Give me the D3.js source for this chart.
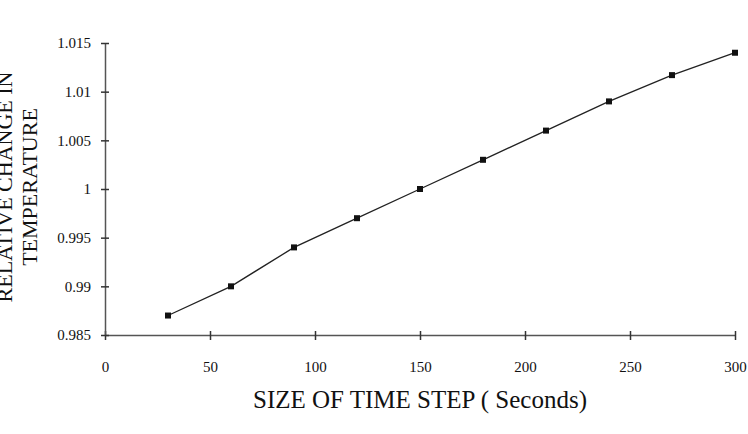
<!DOCTYPE html>
<html>
<head>
<meta charset="utf-8">
<script src="https://cdn.jsdelivr.net/npm/d3@7"></script>
<style>
  body { margin: 0; background: #fff; }
  svg text { font-family: "Liberation Serif", "Times New Roman", serif !important; fill: #111; }
</style>
</head>
<body>
<div class="chart"></div>
<script>
// data
var timeStep = [30, 60, 90, 120, 150, 180, 210, 240, 270, 300];
var relChange = [0.987, 0.990, 0.994, 0.997, 1.000, 1.003, 1.006, 1.009, 1.0117, 1.014];
var xTicks = [0, 50, 100, 150, 200, 250, 300];
var yTicks = [0.985, 0.99, 0.995, 1, 1.005, 1.01, 1.015];

var svgWidth = 748;
var svgHeight = 434;
var margin = { top: 43, right: 13, bottom: 99, left: 105 };
var width = svgWidth - margin.left - margin.right;
var height = svgHeight - margin.top - margin.bottom;

var svg = d3.select(".chart")
  .append("svg")
  .attr("width", svgWidth)
  .attr("height", svgHeight);

var chartGroup = svg.append("g")
  .attr("transform", `translate(${margin.left}, ${margin.top})`);

// scales
var xScale = d3.scaleLinear().domain([0, 300]).range([0, width]);
var yScale = d3.scaleLinear().domain([0.985, 1.015]).range([height, 0]);

// axes
var bottomAxis = d3.axisBottom(xScale).tickValues(xTicks).tickSize(0).tickFormat(d3.format("d"));
var leftAxis = d3.axisLeft(yScale).tickValues(yTicks).tickSize(0).tickFormat(d => String(d));

var xg = chartGroup.append("g")
  .attr("transform", `translate(0, ${height})`)
  .attr("font-family", null)
  .call(bottomAxis);
xg.attr("font-family", "Liberation Serif");
xg.select(".domain").attr("stroke", "#555").attr("stroke-width", 1.5);
xg.selectAll(".tick line").attr("y1", -4).attr("y2", 5).attr("stroke", "#333").attr("stroke-width", 1.5);
xg.selectAll(".tick text")
  .attr("y", 37).attr("dy", 0)
  .attr("font-size", "15px");

var yg = chartGroup.append("g").call(leftAxis);
yg.attr("font-family", "Liberation Serif");
yg.select(".domain").attr("stroke", "#555").attr("stroke-width", 1.5);
yg.selectAll(".tick line").attr("x1", -4).attr("x2", 4).attr("stroke", "#333").attr("stroke-width", 1.5);
yg.selectAll(".tick text")
  .attr("x", -14)
  .attr("font-size", "15px");

// line + markers
var points = timeStep.map((t, i) => ({ x: t, y: relChange[i] }));

var lineGenerator = d3.line()
  .x(d => xScale(d.x))
  .y(d => yScale(d.y));

chartGroup.append("path")
  .attr("fill", "none")
  .attr("stroke", "#222")
  .attr("stroke-width", 1.3)
  .attr("d", lineGenerator(points));

chartGroup.append("g").selectAll("rect")
  .data(points)
  .enter()
  .append("rect")
  .attr("x", d => xScale(d.x) - 3)
  .attr("y", d => yScale(d.y) - 3)
  .attr("width", 6)
  .attr("height", 6)
  .attr("fill", "#111");

// axis titles (first line is clipped at the left edge, as in the original)
svg.append("text")
  .attr("transform", "translate(12, 187) rotate(-90)")
  .attr("text-anchor", "middle")
  .attr("font-size", "22px")
  .text("RELATIVE CHANGE IN");

svg.append("text")
  .attr("transform", "translate(37, 187) rotate(-90)")
  .attr("text-anchor", "middle")
  .attr("font-size", "22px")
  .text("TEMPERATURE");

svg.append("text")
  .attr("x", 420)
  .attr("y", 408)
  .attr("text-anchor", "middle")
  .attr("font-size", "25px")
  .text("SIZE OF TIME STEP ( Seconds)");
</script>
</body>
</html>
